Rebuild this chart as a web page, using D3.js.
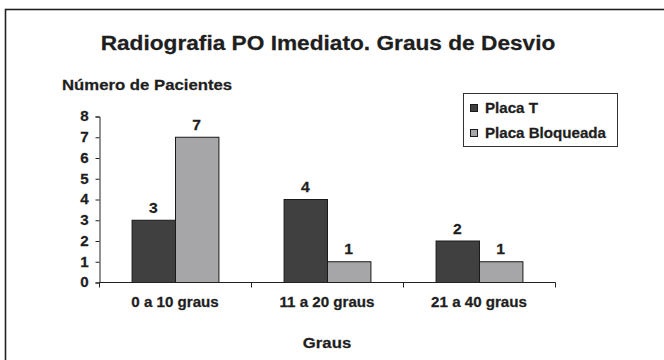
<!DOCTYPE html>
<html>
<head>
<meta charset="utf-8">
<script src="https://cdn.jsdelivr.net/npm/d3@7/dist/d3.min.js"></script>
<style>
  html, body { margin: 0; padding: 0; background: #fff; }
  svg { display: block; }
  text { font-family: "Liberation Sans", Arial, sans-serif; font-weight: bold; fill: #1e1e1e;
         stroke: #1e1e1e; stroke-width: 0.25px; }
</style>
</head>
<body>
<svg id="chart" width="664" height="360"></svg>
<script>
// Categories and series
const categories = ["0 a 10 graus", "11 a 20 graus", "21 a 40 graus"];
const seriesNames = ["Placa T", "Placa Bloqueada"];
const placaT = [3, 4, 2];
const placaBloqueada = [7, 1, 1];
const yTicks = [0, 1, 2, 3, 4, 5, 6, 7, 8];

const colors = { "Placa T": "#404040", "Placa Bloqueada": "#a6a6a8" };
const WIDEN = 1.08; // horizontal widening of the bold lettering

const rows = categories.map((c, i) => ({
  category: c,
  values: [
    { name: seriesNames[0], value: placaT[i] },
    { name: seriesNames[1], value: placaBloqueada[i] }
  ]
}));

const svg = d3.select("#chart");

// Places a text at (x, y) with its glyphs widened horizontally
function label(parent, x, y, str, size, anchor) {
  return parent.append("text")
    .attr("transform", `translate(${x},${y}) scale(${WIDEN},1)`)
    .attr("text-anchor", anchor || "start")
    .style("font-size", size + "px")
    .text(str);
}

// Outer frame
svg.append("rect")
  .attr("x", 5.5).attr("y", 9.5)
  .attr("width", 720).attr("height", 420)
  .attr("fill", "#fff")
  .attr("stroke", "#222").attr("stroke-width", 1.6);

const plot = { left: 99, right: 555, top: 116, bottom: 282 };

const x = d3.scaleBand().domain(categories).range([plot.left, plot.right]).padding(0);
const xSub = d3.scaleBand().domain(seriesNames)
  .range([0, x.bandwidth()]).paddingInner(0).paddingOuter(0.75);
const y = d3.scaleLinear().domain([0, 8]).range([plot.bottom, plot.top]);

// Titles
label(svg, 328, 50, "Radiografia PO Imediato. Graus de Desvio", 21, "middle");
label(svg, 62, 90, "Número de Pacientes", 15.5);
label(svg, 327, 348, "Graus", 15.5, "middle");

// Bars
const groups = svg.append("g").selectAll("g")
  .data(rows).join("g")
  .attr("transform", d => `translate(${x(d.category)},0)`);

groups.selectAll("rect")
  .data(d => d.values).join("rect")
  .attr("x", d => xSub(d.name) + 0.5)
  .attr("y", d => y(d.value) + 0.5)
  .attr("width", xSub.bandwidth())
  .attr("height", d => y(0) - y(d.value))
  .attr("fill", d => colors[d.name])
  .attr("stroke", "#1a1a1a").attr("stroke-width", 1);

// Value labels
groups.each(function (d) {
  const g = d3.select(this);
  d.values.forEach(v => {
    label(g, xSub(v.name) + xSub.bandwidth() / 2, y(v.value) - 7, v.value, 14.5, "middle");
  });
});

// Y axis
const yAxis = svg.append("g")
  .attr("transform", `translate(${plot.left + 0.5},0.5)`)
  .call(d3.axisLeft(y).tickValues(yTicks).tickSize(4).tickPadding(6).tickFormat(d3.format("d")));
yAxis.select(".domain").attr("stroke", "#222");
yAxis.selectAll(".tick line").attr("stroke", "#222");
yAxis.selectAll("text")
  .attr("transform", `scale(${WIDEN},1)`)
  .style("font-family", "Liberation Sans, Arial, sans-serif")
  .style("font-weight", "bold").style("font-size", "14px").attr("fill", "#1e1e1e");

// X axis: ticks at category boundaries
const boundaries = [plot.left].concat(categories.map(c => x(c) + x.bandwidth()));
const xAxis = svg.append("g").attr("transform", `translate(0,${plot.bottom + 0.5})`);
xAxis.append("line")
  .attr("x1", plot.left).attr("x2", plot.right + 0.5)
  .attr("stroke", "#222");
xAxis.selectAll("line.tk")
  .data(boundaries).join("line")
  .attr("class", "tk")
  .attr("x1", d => d + 0.5).attr("x2", d => d + 0.5)
  .attr("y1", 0).attr("y2", 5)
  .attr("stroke", "#222");
categories.forEach(c => {
  label(xAxis, x(c) + x.bandwidth() / 2, 24.5, c, 14, "middle");
});

// Legend
const legend = svg.append("g");
legend.append("rect")
  .attr("x", 463.5).attr("y", 93.5)
  .attr("width", 154).attr("height", 53)
  .attr("fill", "#fff").attr("stroke", "#333").attr("stroke-width", 1);
seriesNames.forEach((name, i) => {
  const item = legend.append("g").attr("transform", `translate(470,${108 + i * 25})`);
  item.append("rect")
    .attr("x", 0.5).attr("y", -3.5)
    .attr("width", 7).attr("height", 7)
    .attr("fill", colors[name])
    .attr("stroke", "#1a1a1a").attr("stroke-width", 1);
  label(item, 15, 5, name, 14);
});
</script>
</body>
</html>
